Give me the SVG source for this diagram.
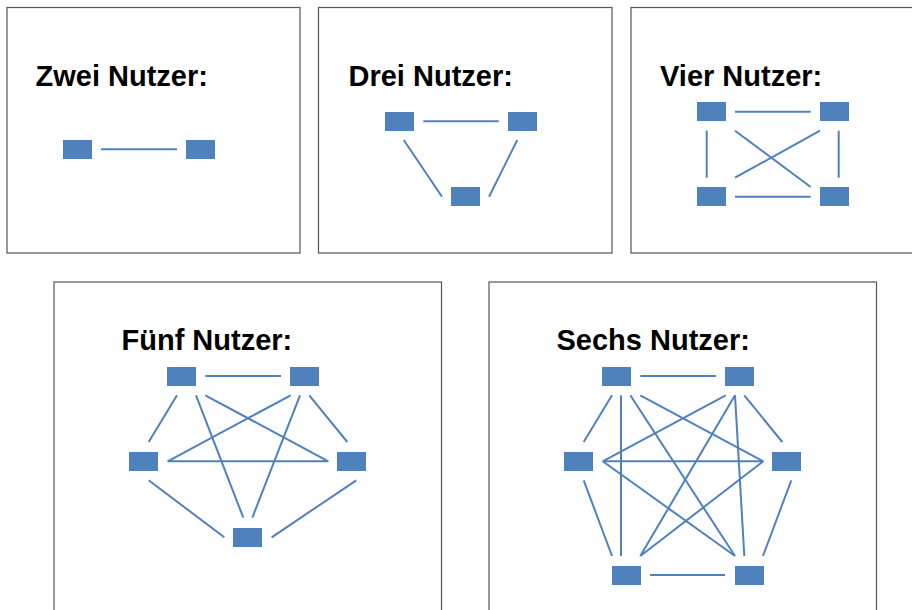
<svg xmlns="http://www.w3.org/2000/svg" width="912" height="610" viewBox="0 0 912 610">
<style>
.panel{fill:#fff;stroke:#555;stroke-width:1.2}
.t{font-family:"Liberation Sans",Arial,sans-serif;font-weight:bold;font-size:29px;fill:#000}
.n{fill:#4f81bd}
.e{stroke:#4f81bd;stroke-width:2;fill:none}
</style>
<rect width="912" height="610" fill="#fff"/>
<g id="panels">
<rect class="panel" x="7" y="7.5" width="293" height="245.5"/>
<rect class="panel" x="318.5" y="7.5" width="293.5" height="245.5"/>
<rect class="panel" x="631" y="7.5" width="290" height="245.5"/>
<rect class="panel" x="54" y="282" width="387.5" height="340"/>
<rect class="panel" x="489" y="282" width="387.5" height="340"/>
</g>
<g id="titles">
<text class="t" x="35.5" y="86">Zwei Nutzer:</text>
<text class="t" x="348.5" y="86">Drei Nutzer:</text>
<text class="t" x="660" y="86">Vier Nutzer:</text>
<text class="t" x="121.5" y="350">Fünf Nutzer:</text>
<text class="t" x="556.5" y="350">Sechs Nutzer:</text>
</g>
<g id="connectors">
<line class="e" x1="101" y1="149.3" x2="177" y2="149.3"/>
<line class="e" x1="423.3" y1="121.3" x2="498.7" y2="121.3"/>
<line class="e" x1="403.7" y1="140" x2="442" y2="196.7"/>
<line class="e" x1="517.3" y1="140" x2="489" y2="196.7"/>
<line class="e" x1="735" y1="111.7" x2="810.7" y2="111.7"/>
<line class="e" x1="735" y1="196.7" x2="810.7" y2="196.7"/>
<line class="e" x1="706.7" y1="130.7" x2="706.7" y2="177.7"/>
<line class="e" x1="838.7" y1="130.7" x2="838.7" y2="177.7"/>
<line class="e" x1="735" y1="130.7" x2="810.7" y2="187"/>
<line class="e" x1="820" y1="130.7" x2="735" y2="177.7"/>
<line class="e" x1="205.3" y1="376" x2="281" y2="376"/>
<line class="e" x1="177" y1="395.3" x2="148.7" y2="442"/>
<line class="e" x1="309.3" y1="395.3" x2="347.3" y2="442"/>
<line class="e" x1="148.7" y1="480.3" x2="224.3" y2="537.3"/>
<line class="e" x1="356.3" y1="480.3" x2="271.7" y2="537.3"/>
<line class="e" x1="205.3" y1="395.3" x2="328.3" y2="461.3"/>
<line class="e" x1="290.7" y1="395.3" x2="167.7" y2="461.3"/>
<line class="e" x1="167.7" y1="461.3" x2="328.3" y2="461.3"/>
<line class="e" x1="196" y1="395.3" x2="243.3" y2="517.7"/>
<line class="e" x1="300" y1="395.3" x2="252.3" y2="517.7"/>
<line class="e" x1="640.3" y1="376" x2="716" y2="376"/>
<line class="e" x1="612" y1="395.3" x2="583.7" y2="442"/>
<line class="e" x1="744.3" y1="395.3" x2="782.3" y2="442"/>
<line class="e" x1="583.7" y1="480.3" x2="612" y2="556"/>
<line class="e" x1="791.3" y1="480.3" x2="763" y2="556"/>
<line class="e" x1="650" y1="575" x2="725" y2="575"/>
<line class="e" x1="621" y1="395.3" x2="621" y2="556"/>
<line class="e" x1="735" y1="395.3" x2="744.3" y2="556"/>
<line class="e" x1="630.3" y1="395.3" x2="735" y2="556"/>
<line class="e" x1="735" y1="395.3" x2="640.3" y2="556"/>
<line class="e" x1="640.3" y1="395.3" x2="763.3" y2="461.3"/>
<line class="e" x1="725.7" y1="395.3" x2="602.7" y2="461.3"/>
<line class="e" x1="602.7" y1="461.3" x2="763.3" y2="461.3"/>
<line class="e" x1="602.7" y1="461.3" x2="735" y2="556"/>
<line class="e" x1="763.3" y1="461.3" x2="640.3" y2="556"/>
</g>
<g id="p1-a"><rect class="n" x="63" y="140" width="29" height="19"/></g>
<g id="p1-b"><rect class="n" x="186" y="140" width="29" height="19"/></g>
<g id="p2-a"><rect class="n" x="385" y="112" width="29" height="19"/></g>
<g id="p2-b"><rect class="n" x="508" y="112" width="29" height="19"/></g>
<g id="p2-c"><rect class="n" x="451" y="187" width="29" height="19"/></g>
<g id="p3-a"><rect class="n" x="697" y="102" width="29" height="19"/></g>
<g id="p3-b"><rect class="n" x="820" y="102" width="29" height="19"/></g>
<g id="p3-c"><rect class="n" x="697" y="187" width="29" height="19"/></g>
<g id="p3-d"><rect class="n" x="820" y="187" width="29" height="19"/></g>
<g id="p4-a"><rect class="n" x="167" y="367" width="29" height="19"/></g>
<g id="p4-b"><rect class="n" x="290" y="367" width="29" height="19"/></g>
<g id="p4-c"><rect class="n" x="129" y="452" width="29" height="19"/></g>
<g id="p4-d"><rect class="n" x="337" y="452" width="29" height="19"/></g>
<g id="p4-e"><rect class="n" x="233" y="528" width="29" height="19"/></g>
<g id="p5-a"><rect class="n" x="602" y="367" width="29" height="19"/></g>
<g id="p5-b"><rect class="n" x="725" y="367" width="29" height="19"/></g>
<g id="p5-c"><rect class="n" x="564" y="452" width="29" height="19"/></g>
<g id="p5-d"><rect class="n" x="772" y="452" width="29" height="19"/></g>
<g id="p5-e"><rect class="n" x="612" y="566" width="29" height="19"/></g>
<g id="p5-f"><rect class="n" x="735" y="566" width="29" height="19"/></g>
</svg>
